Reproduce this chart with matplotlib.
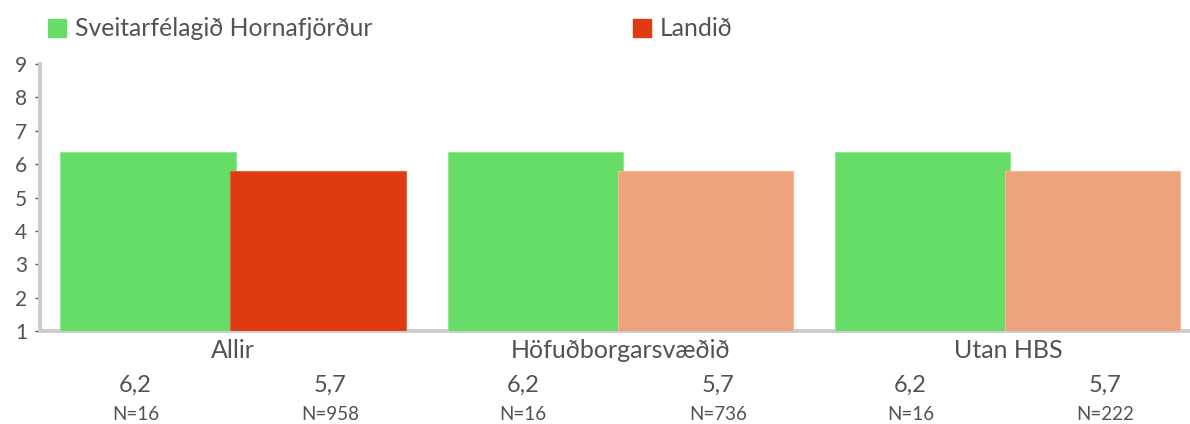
import matplotlib
matplotlib.use("Agg")
import matplotlib.pyplot as plt
import numpy as np

plt.rcParams['font.family'] = ['Lato', 'DejaVu Sans']

categories = ["Allir", "Höfuðborgarsvæðið", "Utan HBS"]
series_names = ["Sveitarfélagið Hornafjörður", "Landið"]
local_values = [6.35, 6.35, 6.35]
national_values = [5.78, 5.78, 5.78]
local_labels = ["6,2", "6,2", "6,2"]
national_labels = ["5,7", "5,7", "5,7"]
local_n = ["N=16", "N=16", "N=16"]
national_n = ["N=958", "N=736", "N=222"]
yticks = [1, 2, 3, 4, 5, 6, 7, 8, 9]

green = "#66DD66"
red = "#E03A12"
salmon = "#EFA37D"
text_col = "#525252"
axis_col = "#CCCCCC"

W, H = 1190, 424
fig = plt.figure(figsize=(W / 100, H / 100), dpi=100)
ax_left, ax_right = 40, 1190
ax_top, ax_bottom = 64, 331
ax = fig.add_axes([ax_left / W, 1 - ax_bottom / H, (ax_right - ax_left) / W, (ax_bottom - ax_top) / H])

x = np.arange(len(categories))
bw = 0.452
off = 0.2194
lab_off = 0.2516
nat_colors = [red, salmon, salmon]
ax.bar(x - off, np.array(local_values) - 1, bottom=1, width=bw, color=green,
       edgecolor="#8FE88F", linewidth=0.8, zorder=3)
ax.bar(x + off, np.array(national_values) - 1, bottom=1, width=bw, color=nat_colors,
       edgecolor=["#E8623F", "#F3B898", "#F3B898"], linewidth=0.8, zorder=3)

ax.set_ylim(1, 9)
ax.set_xlim(-0.498, 2.47)
ax.set_yticks(yticks)
ax.set_yticklabels([str(t) for t in yticks], fontsize=15, color=text_col)
ax.tick_params(axis='y', length=3.6, width=1, color="#555555", pad=5.5)
ax.set_xticks([])
for s in ["top", "right"]:
    ax.spines[s].set_visible(False)
for s in ["left", "bottom"]:
    ax.spines[s].set_color(axis_col)
    ax.spines[s].set_linewidth(2.8)
    ax.spines[s].set_zorder(2)

trans = ax.get_xaxis_transform()
def yfrac(py):
    return (ax_bottom - py) / (ax_bottom - ax_top)

for i, c in enumerate(categories):
    ax.text(x[i], yfrac(350), c, transform=trans, ha="center", va="center",
            fontsize=18, color=text_col)
for i in range(len(categories)):
    ax.text(x[i] - lab_off, yfrac(385), local_labels[i], transform=trans, ha="center", va="center",
            fontsize=17, color=text_col)
    ax.text(x[i] + lab_off, yfrac(385), national_labels[i], transform=trans, ha="center", va="center",
            fontsize=17, color=text_col)
    ax.text(x[i] - lab_off, yfrac(415), local_n[i], transform=trans, ha="center", va="center",
            fontsize=13.5, color=text_col)
    ax.text(x[i] + lab_off, yfrac(415), national_n[i], transform=trans, ha="center", va="center",
            fontsize=13.5, color=text_col)

def fig_rect(px, py, w, h, color):
    fig.patches.append(matplotlib.patches.Rectangle((px / W, 1 - (py + h) / H), w / W, h / H,
                                                    transform=fig.transFigure, color=color))
fig_rect(48, 19, 18, 18, green)
fig.text(75 / W, 1 - 28 / H, series_names[0], ha="left", va="center", fontsize=17.8, color=text_col)
fig_rect(633, 19, 18, 18, red)
fig.text(660 / W, 1 - 28 / H, series_names[1], ha="left", va="center", fontsize=17.8, color=text_col)

fig.savefig("out.png", dpi=100)
